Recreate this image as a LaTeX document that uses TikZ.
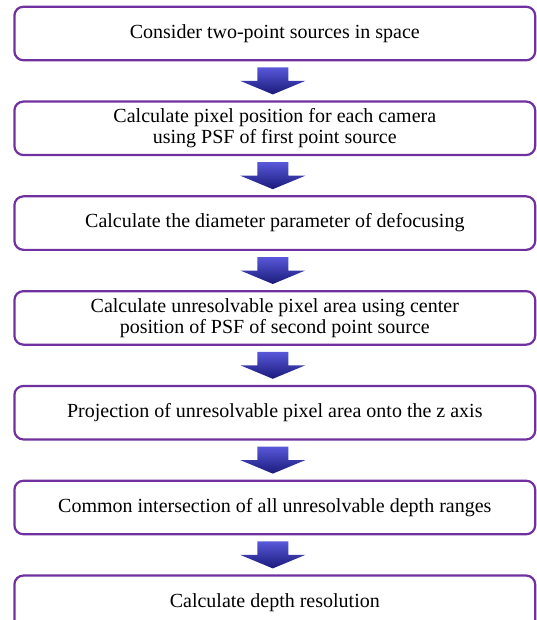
\documentclass[tikz,border=0pt]{standalone}
\usepackage{fontspec}
\setmainfont{Liberation Serif}
\usepackage{tikz}
\usetikzlibrary{positioning,calc}
\definecolor{borde}{RGB}{112,48,160}
\definecolor{flechaclara}{RGB}{88,88,218}
\definecolor{flechaoscura}{RGB}{26,26,122}
\tikzstyle{paso} = [draw=borde, line width=2.2pt, fill=white, rectangle, rounded corners=9pt, minimum width=520.8pt, minimum height=53.5pt, inner sep=0pt, outer sep=0pt, align=center, font=\fontsize{20}{21}\selectfont]
\tikzstyle{flecha} = [top color=flechaclara, bottom color=flechaoscura, draw=none]
% flecha azul de bloque entre dos pasos
\newcommand{\flechaentre}[2]{%
  \path[flecha] ($(#1.south)!0.5!(#2.north)+(-2pt,0pt)$) ++(-15.5pt,13.5pt) -- ++(31pt,0pt) -- ++(0pt,-13.5pt) -- ++(17pt,0pt) -- ++(-32.5pt,-13.5pt) -- ++(-32.5pt,13.5pt) -- ++(17pt,0pt) -- cycle;}

\begin{document}
\begin{tikzpicture}
	\useasboundingbox (0pt,0pt) rectangle (537pt,-620pt);
	\node [paso] (fuentes) at (274.8pt,-33.5pt) {Consider two-point sources in space};
	\node [paso, below=41.3pt of fuentes] (pixel) {Calculate pixel position for each camera\\using PSF of first point source};
	\node [paso, below=41.3pt of pixel] (diametro) {Calculate the diameter parameter of defocusing};
	\node [paso, below=41.3pt of diametro] (area) {Calculate unresolvable pixel area using center\\position of PSF of second point source};
	\node [paso, below=41.3pt of area] (proyeccion) {Projection of unresolvable pixel area onto the z axis};
	\node [paso, below=41.3pt of proyeccion] (interseccion) {Common intersection of all unresolvable depth ranges};
	\node [paso, below=41.3pt of interseccion] (resolucion) {Calculate depth resolution};
	\flechaentre{fuentes}{pixel}
	\flechaentre{pixel}{diametro}
	\flechaentre{diametro}{area}
	\flechaentre{area}{proyeccion}
	\flechaentre{proyeccion}{interseccion}
	\flechaentre{interseccion}{resolucion}
\end{tikzpicture}
\end{document}
